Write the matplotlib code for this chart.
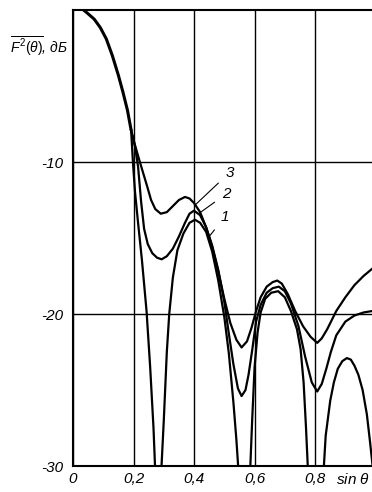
import numpy as np
import matplotlib
matplotlib.use("Agg")
import matplotlib.pyplot as plt
from matplotlib import rcParams

rcParams['font.family'] = ['Liberation Sans', 'DejaVu Sans']
rcParams['mathtext.fontset'] = 'custom'
rcParams['mathtext.it'] = 'Liberation Sans:italic'
rcParams['mathtext.rm'] = 'Liberation Sans'

# --- data (sin theta, dB) ---
# common main lobe
main_s  = [0.035, 0.05, 0.07, 0.09, 0.11, 0.13, 0.15, 0.165, 0.18, 0.192]
main_db = [0.0, -0.25, -0.6, -1.15, -1.9, -3.0, -4.3, -5.4, -6.6, -7.9]

# curve 1
c1_s  = [0.192, 0.198, 0.205, 0.215, 0.228, 0.243, 0.255, 0.266, 0.273,
         0.290, 0.300, 0.310, 0.318, 0.330, 0.345, 0.365, 0.385, 0.403, 0.420,
         0.440, 0.460, 0.480, 0.500, 0.515, 0.530, 0.540, 0.549,
         0.584, 0.592, 0.600, 0.610, 0.620, 0.635, 0.655, 0.678, 0.700, 0.720,
         0.740, 0.752, 0.762, 0.770, 0.778,
         0.826, 0.835, 0.850, 0.862, 0.875, 0.890, 0.905, 0.918, 0.930, 0.943,
         0.957, 0.971, 0.982, 0.990]
c1_db = [-7.9, -10.0, -12.0, -14.0, -16.5, -19.8, -23.5, -27.5, -31.0,
         -31.0, -27.0, -22.5, -20.0, -17.6, -15.8, -14.7, -14.0, -13.8, -14.0,
         -14.6, -15.9, -17.8, -20.2, -22.6, -25.8, -28.3, -31.0,
         -31.0, -27.0, -23.5, -21.2, -19.9, -19.0, -18.6, -18.5, -18.9, -19.8,
         -21.0, -22.3, -24.5, -27.5, -31.0,
         -31.0, -28.0, -25.7, -24.5, -23.6, -23.1, -22.9, -23.0, -23.4, -24.0,
         -25.0, -26.6, -28.5, -30.0]

# curve 2
c2_s  = [0.192, 0.205, 0.215, 0.225, 0.235, 0.247, 0.262, 0.278, 0.293, 0.310,
         0.330, 0.350, 0.370, 0.385, 0.400, 0.420, 0.440, 0.460, 0.480, 0.500,
         0.515, 0.530, 0.545, 0.557, 0.570, 0.580, 0.592, 0.605, 0.620, 0.640,
         0.660, 0.680, 0.700, 0.720, 0.745, 0.767, 0.789, 0.807, 0.822, 0.837,
         0.852, 0.870, 0.900, 0.930, 0.960, 0.990]
c2_db = [-7.9, -9.0, -10.3, -12.6, -14.4, -15.4, -16.0, -16.3, -16.4, -16.2,
         -15.7, -14.9, -14.0, -13.4, -13.2, -13.5, -14.3, -15.5, -17.1, -19.2,
         -21.3, -23.3, -24.9, -25.4, -25.0, -24.0, -22.4, -20.5, -19.4, -18.6,
         -18.3, -18.2, -18.5, -19.3, -20.8, -22.8, -24.5, -25.1, -24.6, -23.6,
         -22.5, -21.4, -20.5, -20.1, -19.9, -19.8]

# curve 3
c3_s  = [0.192, 0.205, 0.218, 0.230, 0.245, 0.258, 0.272, 0.290, 0.310, 0.330,
         0.350, 0.370, 0.385, 0.400, 0.420, 0.440, 0.460, 0.480, 0.500, 0.520,
         0.540, 0.557, 0.575, 0.590, 0.605, 0.620, 0.640, 0.660, 0.675, 0.690,
         0.710, 0.734, 0.760, 0.785, 0.807, 0.822, 0.840, 0.870, 0.900, 0.930,
         0.960, 0.990]
c3_db = [-7.9, -8.9, -9.8, -10.6, -11.6, -12.5, -13.1, -13.4, -13.3, -12.9,
         -12.5, -12.3, -12.4, -12.7, -13.3, -14.3, -15.6, -17.2, -19.0, -20.6,
         -21.7, -22.2, -21.8, -20.9, -19.8, -18.9, -18.2, -17.9, -17.8, -18.0,
         -18.7, -19.8, -20.8, -21.5, -21.9, -21.6, -21.0, -19.8, -18.9, -18.1,
         -17.5, -17.0]

curve_names = ["1", "2", "3"]
label_pos = [(0.502, -13.6), (0.506, -12.1), (0.517, -10.7)]
label_tip = [(0.446, -15.0), (0.415, -13.4), (0.405, -12.8)]

x_ticks = [0.0, 0.2, 0.4, 0.6, 0.8]
x_ticklabels = ["0", "0,2", "0,4", "0,6", "0,8"]
y_ticks = [-30, -20, -10]
y_ticklabels = ["-30", "-20", "-10"]

fig = plt.figure(figsize=(3.72, 4.92), dpi=100)
ax = fig.add_axes([73 / 372, 26 / 492, 299 / 372, 456 / 492])

lw = 1.6
ax.plot(main_s, main_db, color="black", lw=lw + 0.6, solid_capstyle="round",
        solid_joinstyle="round")
for s, db in [(c1_s, c1_db), (c2_s, c2_db), (c3_s, c3_db)]:
    ax.plot(s, db, color="black", lw=lw, solid_joinstyle="round")

for name, pos, tip in zip(curve_names, label_pos, label_tip):
    ax.annotate(name, xy=tip, xytext=pos, ha="center", va="center",
                fontsize=11, style="italic",
                arrowprops=dict(arrowstyle="-", color="black", lw=0.8,
                                shrinkA=4, shrinkB=0))

ax.set_xlim(0, 0.988)
ax.set_ylim(-30, 0)
ax.set_xticks(x_ticks)
ax.set_xticklabels(x_ticklabels, fontsize=11, style="italic")
ax.set_yticks(y_ticks)
ax.set_yticklabels(y_ticklabels, fontsize=11, style="italic")
ax.tick_params(axis="x", length=0, pad=4)
ax.tick_params(axis="y", length=0, pad=7)
ax.grid(True, color="black", lw=1.0)

for side in ["left", "top", "bottom"]:
    ax.spines[side].set_linewidth(1.5)
ax.spines["right"].set_visible(False)

ax.text(0.98, -30.4, r"sin $\theta$", transform=ax.transData, ha="right",
        va="top", fontsize=11, style="italic")
fig.text(68 / 372, 1 - 46 / 492, r"$\overline{F^2(\theta)}$, дБ", ha="right",
         va="center", fontsize=10, style="italic")

fig.savefig("out.png", dpi=100)
